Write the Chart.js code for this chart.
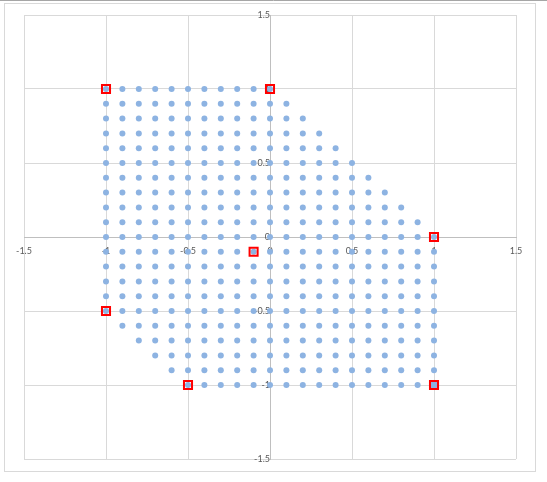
<!DOCTYPE html>
<html>
<head>
<meta charset="utf-8">
<script src="https://cdn.jsdelivr.net/npm/chart.js@4"></script>
<style>
html,body{margin:0;padding:0;background:#fff;}
canvas{display:block;}
</style>
</head>
<body>
<canvas id="c" width="547" height="482"></canvas>
<script>
// ---- data ----
// each row of the lattice: its y value, leftmost and rightmost x
const rowY    = [1.0, 0.9, 0.8, 0.7, 0.6, 0.5, 0.4, 0.3, 0.2, 0.1, 0.0, -0.1, -0.2, -0.3, -0.4, -0.5, -0.6, -0.7, -0.8, -0.9, -1.0];
const rowXMin = [-1, -1, -1, -1, -1, -1, -1, -1, -1, -1, -1, -1, -1, -1, -1, -1, -0.9, -0.8, -0.7, -0.6, -0.5];
const rowXMax = [0, 0.1, 0.2, 0.3, 0.4, 0.5, 0.6, 0.7, 0.8, 0.9, 1, 1, 1, 1, 1, 1, 1, 1, 1, 1, 1];
const latticeStep = 0.1;

// highlighted points (red squares)
const markedX = [-1, 0, 1, 1, -0.5, -1, -0.1];
const markedY = [1, 1, 0, -1, -1, -0.5, -0.1];

// axis ticks
const tickValues = [-1.5, -1, -0.5, 0, 0.5, 1, 1.5];
const tickLabels = ["-1.5", "-1", "-0.5", "0", "0.5", "1", "1.5"];

// ---- build library data ----
const latticePts = [];
for (let r = 0; r < rowY.length; r++) {
  const k0 = Math.round(rowXMin[r] / latticeStep);
  const k1 = Math.round(rowXMax[r] / latticeStep);
  for (let k = k0; k <= k1; k++) {
    latticePts.push({x: +(k * latticeStep).toFixed(1), y: rowY[r]});
  }
}
const markedPts = markedX.map((x, i) => ({x: x, y: markedY[i]}));

const BLUE = '#8db3e2';
const markedFill = markedPts.map(p => (p.x === 1 && p.y === -1) ? BLUE : 'rgba(0,0,0,0)');

function labelFor(v) {
  const i = tickValues.findIndex(t => Math.abs(t - v) < 1e-9);
  return i >= 0 ? tickLabels[i] : '';
}

const framePlugin = {
  id: 'frame',
  beforeDraw(chart) {
    const ctx = chart.ctx;
    ctx.save();
    ctx.fillStyle = '#fff';
    ctx.fillRect(0, 0, chart.width, chart.height);
    ctx.strokeStyle = '#a6a6a6';
    ctx.lineWidth = 1;
    ctx.beginPath();
    ctx.moveTo(0, 0.5); ctx.lineTo(chart.width, 0.5);
    ctx.stroke();
    ctx.strokeStyle = '#d9d9d9';
    ctx.strokeRect(4.5, 3.5, 531, 468);
    ctx.restore();
  }
};

const tickFont = {family: 'Lato', size: 9};

new Chart(document.getElementById('c'), {
  type: 'scatter',
  data: {
    datasets: [
      {
        label: 'marked',
        data: markedPts,
        pointStyle: 'rect',
        pointRadius: 5.7,
        pointHoverRadius: 5.7,
        pointBorderWidth: 2,
        pointBorderColor: '#ff0000',
        pointBackgroundColor: markedFill,
        showLine: false
      },
      {
        label: 'lattice',
        data: latticePts,
        pointStyle: 'circle',
        pointRadius: 3,
        pointHoverRadius: 3,
        pointBorderWidth: 0,
        pointBackgroundColor: BLUE,
        pointBorderColor: BLUE,
        showLine: false
      }
    ]
  },
  options: {
    responsive: false,
    animation: false,
    devicePixelRatio: 1,
    layout: {padding: {left: 24, top: 15, right: 31, bottom: 23}},
    plugins: {legend: {display: false}, tooltip: {enabled: false}},
    events: [],
    scales: {
      x: {
        type: 'linear',
        min: -1.5, max: 1.5,
        position: {y: 0},
        afterBuildTicks(s) { s.ticks = tickValues.map(v => ({value: v})); },
        ticks: {
          stepSize: 0.5, autoSkip: false, maxRotation: 0, minRotation: 0,
          padding: 9, color: '#595959', font: tickFont,
          callback: v => labelFor(v)
        },
        grid: {color: '#d9d9d9', lineWidth: 1, drawTicks: false},
        border: {display: true, color: '#bfbfbf', width: 1}
      },
      y: {
        type: 'linear',
        min: -1.5, max: 1.5,
        position: {x: 0},
        afterBuildTicks(s) { s.ticks = tickValues.map(v => ({value: v})); },
        ticks: {
          stepSize: 0.5, autoSkip: false,
          padding: 9, color: '#595959', font: tickFont,
          callback: v => labelFor(v)
        },
        grid: {color: '#d9d9d9', lineWidth: 1, drawTicks: false},
        border: {display: true, color: '#bfbfbf', width: 1}
      }
    }
  },
  plugins: [framePlugin]
});
</script>
</body>
</html>
